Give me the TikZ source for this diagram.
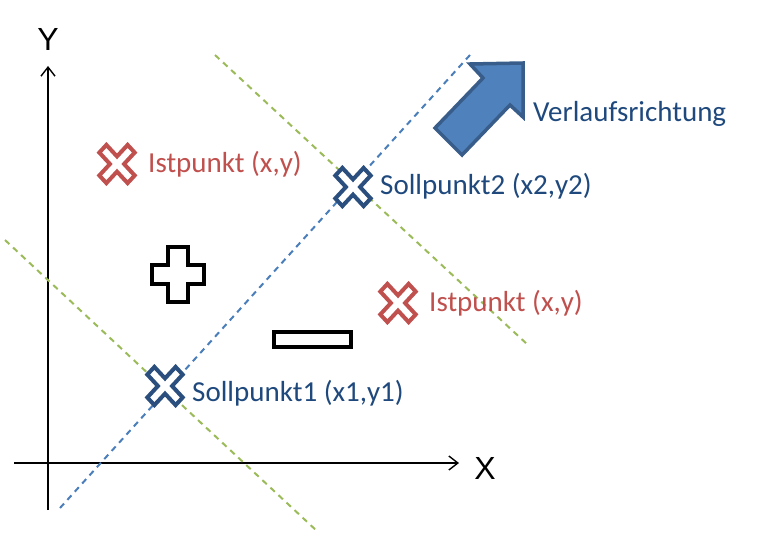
\documentclass[tikz,border=0pt]{standalone}
\usepackage{fontspec}
\setmainfont{Carlito}
\newfontfamily\axisfont{Liberation Sans}
\usetikzlibrary{arrows.meta}
\definecolor{istred}{HTML}{C0504D}
\definecolor{sollblue}{HTML}{1F497D}
\definecolor{crossblue}{HTML}{2A4E7E}
\definecolor{dashblue}{HTML}{4A7EBB}
\definecolor{dashgreen}{HTML}{9BBB59}
\definecolor{arrowfill}{HTML}{4F81BD}
\definecolor{arrowedge}{HTML}{385D8A}
\tikzset{
  x=1pt, y=-1pt,
  axis/.style={line width=1.8pt, black, -{Straight Barb[length=9pt,width=14pt,line width=1.4pt]}},
  axislabel/.style={font=\axisfont\fontsize{32}{32}\selectfont, inner sep=0pt},
  bluedash/.style={dashblue, line width=2pt, dash pattern=on 6pt off 5pt},
  greendash/.style={dashgreen, line width=2pt, dash pattern=on 6pt off 5pt},
  ptlabel/.style={font=\fontsize{29}{29}\selectfont, inner sep=0pt, anchor=west},
  istlabel/.style={ptlabel, text=istred},
  solllabel/.style={ptlabel, text=sollblue},
  xmark/.pic={\path[pic actions, rotate=45] (5,20) -- (5,5) -- (20,5) -- (20,-5) -- (5,-5) -- (5,-20) -- (-5,-20) -- (-5,-5) -- (-20,-5) -- (-20,5) -- (-5,5) -- (-5,20) -- cycle;},
  istmark/.style={fill=white, draw=istred, line width=4pt, line join=miter, yscale=1.08},
  sollmark/.style={fill=white, draw=crossblue, line width=4pt, line join=miter, yscale=1.08},
  signshape/.style={fill=white, draw=black, line width=4pt, line join=miter},
}
\begin{document}
\begin{tikzpicture}
\useasboundingbox (0,0) rectangle (765,535);
% axes
\coordinate (yfoot) at (48,510);
\coordinate (ytop) at (48,66);
\coordinate (xfoot) at (14,463);
\coordinate (xtip) at (459,463);
\draw[axis] (yfoot) -- (ytop);
\draw[axis] (xfoot) -- (xtip);
\node[axislabel] (ylab) at (48,39) {Y};
\node[axislabel] (xlab) at (485,468) {X};
% dashed lines
\coordinate (b1) at (60,508);
\coordinate (b2) at (470,55);
\coordinate (g1a) at (5,240);
\coordinate (g1b) at (318,532);
\coordinate (g2a) at (215,55);
\coordinate (g2b) at (528,345);
\draw[bluedash] (b1) -- (b2);
\draw[greendash] (g1a) -- (g1b);
\draw[greendash] (g2a) -- (g2b);
% direction arrow
\draw[fill=arrowfill, draw=arrowedge, line width=3.5pt, line join=miter]
  (435,128) -- (462,155) -- (510,105) -- (523,117) -- (523,63) -- (470,64) -- (483,78) -- cycle;
\node[ptlabel, text=sollblue] (verlauf) at (533,114) {Verlaufsrichtung};
% plus and minus
\draw[signshape] (168,247) -- (188,247) -- (188,265) -- (204,265) -- (204,284) -- (188,284) -- (188,302) -- (168,302) -- (168,284) -- (152,284) -- (152,265) -- (168,265) -- cycle;
\draw[signshape] (274,332) rectangle (351,347);
% marks
\pic[istmark] at (117,164) {xmark};
\pic[istmark] at (398,303) {xmark};
\pic[sollmark] at (353,187) {xmark};
\pic[sollmark] at (165,386) {xmark};
% labels
\node[istlabel] (ist1) at (148,164) {Istpunkt (x,y)};
\node[istlabel] (ist2) at (429,303) {Istpunkt (x,y)};
\node[solllabel] (soll2) at (380,186) {Sollpunkt2 (x2,y2)};
\node[solllabel] (soll1) at (192,393) {Sollpunkt1 (x1,y1)};
\end{tikzpicture}
\end{document}
